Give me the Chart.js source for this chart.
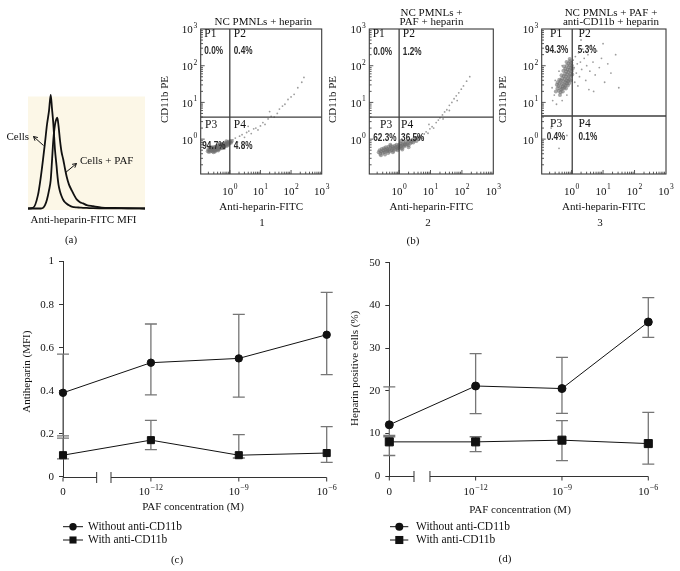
<!DOCTYPE html>
<html><head><meta charset="utf-8">
<script src="https://cdn.jsdelivr.net/npm/chart.js@4.4.1/dist/chart.umd.min.js"></script>
<style>
html,body{margin:0;padding:0;background:#fff;width:680px;height:571px;overflow:hidden}
#wrap{position:relative;width:680px;height:571px}
canvas{position:absolute}
.lbl{position:absolute;font:11px "Liberation Serif","Times New Roman",serif;color:#111;transform:translate(-50%,-50%);white-space:nowrap}
</style></head><body>
<div id="wrap">
<canvas id="ha" width="155" height="160" style="left:0;top:85px"></canvas>
<canvas id="b1" width="180" height="215" style="left:150px;top:0"></canvas>
<canvas id="b2" width="180" height="215" style="left:325px;top:0"></canvas>
<canvas id="b3" width="185" height="215" style="left:495px;top:0"></canvas>
<canvas id="lc" width="340" height="321" style="left:0;top:250px"></canvas>
<canvas id="ld" width="340" height="321" style="left:340px;top:250px"></canvas>
<div class="lbl" style="left:413px;top:240px">(b)</div>
<div class="lbl" style="left:177px;top:559px">(c)</div>
<div class="lbl" style="left:505px;top:558px">(d)</div>
<div class="lbl" style="left:262px;top:222px">1</div>
<div class="lbl" style="left:428px;top:222px">2</div>
<div class="lbl" style="left:600px;top:222px">3</div>
</div>
<script>
// ================= DATA =================
// (a) histogram: channel vs relative count
const histChannel  = [0,5,10,13,15,17,19,21,22.7,24,25.3,27,28.5,29.3,30.5,32,33.5,35.3,37,38.7,41,43.7,46,48.7,52,55,58.7,65,73.7,85,100,117];
const histCells    = [0,0.5,12,29,43,58,74,86,100,88,75,51.5,38,30,21,15,11,7.5,5.5,4.2,2.8,1.6,1.2,1.0,0.8,0.6,0.5,0.3,0.2,0.1,0.1,0];
const histCellsPAF = [0,0,0,0,0.5,3,8,16,25,42,60,74,79,80,73,60,50,43,35,28,21,16,12,8,5.5,4.5,3,2,0.8,0.5,0.2,0];

// (b) flow cytometry dot plots: [log10 Anti-heparin-FITC, log10 CD11b PE]
const flowDecades = [0,1,2,3];
const b1Dense = [[-0.72,-0.33],[-0.70,-0.28],[-0.68,-0.35],[-0.66,-0.30],[-0.65,-0.26],[-0.63,-0.33],[-0.62,-0.29],[-0.60,-0.24],[-0.59,-0.31],[-0.58,-0.27],[-0.56,-0.34],[-0.55,-0.25],[-0.54,-0.29],[-0.52,-0.22],[-0.51,-0.31],[-0.50,-0.26],[-0.49,-0.28],[-0.47,-0.21],[-0.46,-0.30],[-0.45,-0.24],[-0.44,-0.27],[-0.42,-0.19],[-0.41,-0.25],[-0.40,-0.29],[-0.39,-0.22],[-0.37,-0.26],[-0.36,-0.18],[-0.35,-0.23],[-0.34,-0.27],[-0.32,-0.20],[-0.31,-0.16],[-0.30,-0.24],[-0.29,-0.21],[-0.27,-0.17],[-0.26,-0.25],[-0.25,-0.19],[-0.24,-0.14],[-0.22,-0.22],[-0.21,-0.17],[-0.20,-0.12],[-0.18,-0.20],[-0.17,-0.15],[-0.16,-0.18],[-0.14,-0.11],[-0.13,-0.16],[-0.12,-0.13],[-0.10,-0.19],[-0.09,-0.09],[-0.08,-0.14],[-0.06,-0.11],[-0.05,-0.16],[-0.04,-0.07],[-0.02,-0.12],[0.00,-0.09],[0.02,-0.05],[0.04,-0.10],[0.06,-0.06],[-0.58,-0.22],[-0.48,-0.34],[-0.38,-0.31],[-0.28,-0.13],[-0.19,-0.24],[-0.11,-0.06],[-0.64,-0.22],[-0.53,-0.36]];
const b1Sparse = [[0.10,-0.02],[0.18,0.03],[0.25,-0.08],[0.32,0.08],[0.40,0.12],[0.48,0.05],[0.55,0.18],[0.62,0.22],[0.70,0.15],[0.78,0.28],[0.85,0.30],[0.92,0.25],[1.00,0.36],[1.08,0.45],[1.15,0.40],[1.25,0.55],[1.35,0.62],[1.45,0.60],[1.55,0.70],[1.62,0.82],[1.72,0.90],[1.80,0.95],[1.90,1.08],[2.00,1.15],[2.10,1.22],[2.22,1.40],[2.35,1.55],[2.42,1.68],[1.30,0.75],[0.60,0.35]];
const b2Dense = [[-0.65,-0.36],[-0.62,-0.30],[-0.60,-0.40],[-0.57,-0.33],[-0.55,-0.27],[-0.52,-0.37],[-0.50,-0.31],[-0.48,-0.25],[-0.46,-0.35],[-0.44,-0.29],[-0.42,-0.22],[-0.40,-0.33],[-0.38,-0.27],[-0.36,-0.31],[-0.34,-0.21],[-0.32,-0.28],[-0.30,-0.34],[-0.28,-0.24],[-0.26,-0.19],[-0.24,-0.30],[-0.22,-0.26],[-0.20,-0.21],[-0.18,-0.32],[-0.16,-0.24],[-0.14,-0.18],[-0.12,-0.28],[-0.10,-0.22],[-0.08,-0.15],[-0.06,-0.26],[-0.04,-0.20],[-0.02,-0.24],[0.00,-0.16],[0.02,-0.22],[0.04,-0.12],[0.06,-0.19],[0.08,-0.25],[0.10,-0.14],[0.12,-0.18],[0.14,-0.09],[0.16,-0.20],[0.18,-0.13],[0.20,-0.16],[0.22,-0.07],[0.25,-0.14],[0.28,-0.10],[0.30,-0.17],[0.33,-0.05],[0.36,-0.11],[0.39,-0.08],[0.42,-0.02],[0.45,-0.09],[0.48,-0.04],[0.52,0.02],[0.55,-0.05],[0.58,0.04],[0.62,0.00],[0.66,0.06],[-0.35,-0.38],[-0.20,-0.36],[-0.05,-0.30],[0.10,-0.28],[-0.45,-0.42],[-0.28,-0.15],[0.05,-0.05],[-0.58,-0.44],[0.30,-0.22]];
const b2Sparse = [[0.70,0.10],[0.75,0.02],[0.80,0.14],[0.86,0.20],[0.92,0.16],[0.98,0.28],[1.05,0.34],[1.10,0.30],[1.18,0.45],[1.25,0.52],[1.30,0.58],[1.38,0.66],[1.45,0.74],[1.52,0.80],[1.60,0.92],[1.68,1.00],[1.75,1.10],[1.82,1.18],[1.90,1.26],[1.98,1.36],[2.05,1.45],[2.15,1.58],[1.40,0.55],[1.60,0.78],[1.85,1.05],[0.95,0.40],[2.25,1.70]];
const b3Dense = [[-0.45,1.38],[-0.42,1.45],[-0.40,1.32],[-0.38,1.52],[-0.36,1.42],[-0.34,1.60],[-0.33,1.36],[-0.31,1.50],[-0.30,1.66],[-0.28,1.44],[-0.27,1.58],[-0.25,1.72],[-0.24,1.48],[-0.22,1.64],[-0.21,1.78],[-0.20,1.55],[-0.18,1.70],[-0.17,1.84],[-0.16,1.60],[-0.14,1.76],[-0.13,1.90],[-0.12,1.66],[-0.10,1.82],[-0.09,1.96],[-0.08,1.72],[-0.06,1.88],[-0.05,2.02],[-0.04,1.78],[-0.02,1.94],[-0.01,2.08],[0.00,1.85],[0.01,2.00],[-0.35,1.28],[-0.29,1.38],[-0.23,1.40],[-0.19,1.46],[-0.15,1.52],[-0.11,1.58],[-0.07,1.62],[-0.03,1.70],[-0.26,1.86],[-0.20,1.92],[-0.15,2.00],[-0.10,2.06],[-0.05,2.12],[-0.39,1.62],[-0.32,1.74],[-0.44,1.55],[-0.18,1.38],[-0.12,1.46],[-0.28,1.30],[-0.08,1.52],[-0.02,1.60],[0.02,1.76],[0.03,1.92],[-0.37,1.20],[-0.50,1.30],[-0.47,1.48],[-0.24,1.98],[-0.16,2.10],[-0.06,2.18]];
const b3Sparse = [[0.05,2.15],[0.08,1.95],[0.12,2.25],[0.15,1.80],[0.18,2.05],[0.22,2.35],[0.25,1.70],[0.28,2.10],[0.32,1.90],[0.35,2.45],[0.40,2.20],[0.45,1.60],[0.48,2.00],[0.52,2.30],[0.58,1.85],[0.62,2.55],[0.68,2.10],[0.75,1.75],[0.80,2.40],[0.88,1.95],[0.95,2.20],[1.05,1.55],[1.15,2.05],[1.25,1.80],[1.40,2.30],[1.50,1.40],[0.30,2.70],[0.10,1.55],[0.20,1.45],[-0.55,1.20],[-0.60,1.05],[-0.52,1.60],[-0.48,0.95],[-0.30,1.05],[-0.15,1.20],[-0.62,1.40],[-0.40,1.85],[-0.30,2.00],[-0.65,0.30],[-0.40,-0.25],[0.30,0.45],[-0.15,0.10],[0.70,1.30],[1.00,2.60],[0.55,1.35]];
const b1Gate = [0, 0.6];
const b2Gate = [0, 0.6];
const b3Gate = [0.02, 0.63];
const b1Pct = ['0.0%','0.4%','94.7%','4.8%'];
const b2Pct = ['0.0%','1.2%','62.3%','36.5%'];
const b3Pct = ['94.3%','5.3%','0.4%','0.1%'];
const quadNames = ['P1','P2','P3','P4'];

// (c),(d) line charts
const pafTickBase = ['0','10','10','10'];
const pafTickExp  = ['','\u221212','\u22129','\u22126'];
const cWithout     = [0.39,0.53,0.55,0.66];
const cWithoutLow  = [0.19,0.38,0.37,0.475];
const cWithoutHigh = [0.57,0.71,0.755,0.857];
const cWith        = [0.10,0.17,0.10,0.11];
const cWithLow     = [0.083,0.126,0.087,0.067];
const cWithHigh    = [0.179,0.262,0.196,0.233];
const dWithout     = [12,21.1,20.5,36.1];
const dWithoutLow  = [9.5,14.6,14.7,32.5];
const dWithoutHigh = [20.9,28.7,27.8,41.8];
const dWith        = [8.0,8.0,8.4,7.6];
const dWithLow     = [4.8,5.7,3.6,2.8];
const dWithHigh    = [9.2,9.2,13.0,14.9];

// ================= RENDER =================
const SERIF = '"Liberation Serif","Times New Roman",serif';
const PCTFONT = 'bold 10px "Liberation Sans","Arial",sans-serif';
Chart.defaults.font.family = SERIF;
Chart.defaults.color = '#111';

function drawPow(ctx, base, exp, x, y, align, bf, ef, rise){
  ctx.font = bf; const w1 = ctx.measureText(base).width;
  ctx.font = ef; const w2 = exp ? ctx.measureText(exp).width + 0.6 : 0;
  const tot = w1 + w2;
  const sx = align === 'right' ? x - tot : (align === 'center' ? x - tot/2 : x);
  ctx.textAlign = 'left'; ctx.textBaseline = 'middle';
  ctx.font = bf; ctx.fillText(base, sx, y);
  if (exp) { ctx.font = ef; ctx.fillText(exp, sx + w1 + 0.6, y - rise); }
}
function arrow(ctx, x1, y1, x2, y2){
  const ang = Math.atan2(y2-y1, x2-x1), L = 4.5;
  ctx.beginPath(); ctx.moveTo(x1,y1); ctx.lineTo(x2,y2);
  ctx.moveTo(x2 - L*Math.cos(ang-0.5), y2 - L*Math.sin(ang-0.5)); ctx.lineTo(x2,y2);
  ctx.lineTo(x2 - L*Math.cos(ang+0.5), y2 - L*Math.sin(ang+0.5));
  ctx.stroke();
}

// ---- (a) histogram ----
new Chart(document.getElementById('ha'), {
  type: 'line',
  data: { datasets: [
    { data: histChannel.map((c,i)=>({x:c, y:histCells[i]})), borderColor:'#111', borderWidth:1.8, pointRadius:0, cubicInterpolationMode:'monotone', clip:false },
    { data: histChannel.map((c,i)=>({x:c, y:histCellsPAF[i]})), borderColor:'#111', borderWidth:1.8, pointRadius:0, cubicInterpolationMode:'monotone', clip:false }
  ]},
  options: {
    responsive:false, animation:false, events:[], devicePixelRatio:1,
    plugins:{legend:{display:false}, tooltip:{enabled:false}},
    layout:{padding:{left:0, top:10, right:10, bottom:0}},
    scales:{
      x:{type:'linear', min:0, max:117, ticks:{display:false}, grid:{display:false}, border:{display:false}, afterFit:s=>{s.height=36.5;}},
      y:{type:'linear', min:0, max:100, ticks:{display:false}, grid:{display:false}, border:{display:false}, afterFit:s=>{s.width=28;}}
    }
  },
  plugins:[{
    id:'histDeco',
    beforeDatasetsDraw(chart){
      const {ctx, chartArea:a} = chart;
      ctx.save(); ctx.fillStyle = '#fcf7e7';
      ctx.fillRect(a.left, a.top + 1.5, a.right - a.left, a.bottom - a.top);
      ctx.restore();
    },
    afterDraw(chart){
      const ctx = chart.ctx;
      ctx.save();
      ctx.fillStyle = '#111'; ctx.strokeStyle = '#111'; ctx.lineWidth = 1;
      ctx.font = '11px ' + SERIF; ctx.textBaseline = 'middle'; ctx.textAlign = 'left';
      ctx.fillText('Cells', 6.5, 51.7);
      ctx.fillText('Cells + PAF', 80, 75.7);
      arrow(ctx, 43.5, 60.5, 33.5, 51.5);
      arrow(ctx, 65, 88, 76.5, 78.5);
      ctx.textAlign = 'center';
      ctx.fillText('Anti-heparin-FITC MFI', 83.5, 135);
      ctx.fillText('(a)', 71, 155);
      ctx.restore();
    }
  }]
});

// ---- (b) flow plots ----
function makeFlow(id, dense, sparse, gate, pct, S){
  const BF = '11px ' + SERIF, EF = '7.5px ' + SERIF;
  new Chart(document.getElementById(id), {
    type:'scatter',
    data:{datasets:[
      {data: sparse.map(p=>({x:p[0], y:p[1]})), pointRadius:0.9, backgroundColor:'rgba(140,140,140,0.85)', borderWidth:0},
      {data: dense.map(p=>({x:p[0], y:p[1]})), pointRadius:2, backgroundColor:'rgba(110,110,110,0.6)', borderWidth:0}
    ]},
    options:{
      responsive:false, animation:false, events:[], devicePixelRatio:1,
      plugins:{legend:{display:false}, tooltip:{enabled:false}},
      layout:{padding:{left:0, top:S.top, right:S.right, bottom:0}},
      scales:{
        x:{type:'linear', min:-0.95, max:3, ticks:{display:false}, grid:{display:false}, border:{display:false}, afterFit:s=>{s.height=S.bottom;}},
        y:{type:'linear', min:-0.95, max:3, ticks:{display:false}, grid:{display:false}, border:{display:false}, afterFit:s=>{s.width=S.left;}}
      }
    },
    plugins:[{
      id:'flow_'+id,
      afterDatasetsDraw(chart){
        const {ctx, chartArea:a, scales:{x, y}} = chart;
        const L=a.left, R=a.right, T=a.top, B=a.bottom;
        ctx.save();
        ctx.strokeStyle='#3a3a3a'; ctx.lineWidth=1.1;
        ctx.strokeRect(L, T, R-L, B-T);
        const V = x.getPixelForValue(gate[0]), H = y.getPixelForValue(gate[1]);
        ctx.strokeStyle='#3f3f3f'; ctx.lineWidth=1.3;
        ctx.beginPath(); ctx.moveTo(V,T); ctx.lineTo(V,B); ctx.moveTo(L,H); ctx.lineTo(R,H); ctx.stroke();
        ctx.lineWidth=0.9; ctx.strokeStyle='#444';
        ctx.beginPath();
        for (let d=-1; d<3; d++) for (let k=1; k<10; k++){
          const v = d + Math.log10(k);
          if (v < -0.95 || v > 3) continue;
          const len = k===1 ? 4 : 2.3;
          const py = y.getPixelForValue(v), px = x.getPixelForValue(v);
          ctx.moveTo(L, py); ctx.lineTo(L+len, py);
          ctx.moveTo(px, B); ctx.lineTo(px, B-len);
        }
        ctx.stroke();
        ctx.fillStyle='#111';
        flowDecades.forEach(e=>{
          drawPow(ctx, '10', String(e), L-3.5, y.getPixelForValue(e)+1.5, 'right', BF, EF, 4.5);
          drawPow(ctx, '10', String(e), x.getPixelForValue(e), 191.7, 'center', BF, EF, 4.5);
        });
        // quadrant labels
        const ax = {L:L, V:V}, ay = {T:T, H:H};
        S.q.forEach((q,i)=>{
          ctx.textAlign='left'; ctx.textBaseline='middle';
          ctx.font = '11.5px ' + SERIF; ctx.fillStyle='#111';
          ctx.fillText(quadNames[i], ax[q[0]]+q[1], ay[q[2]]+q[3]);
          ctx.font = PCTFONT; ctx.fillStyle='#2a2a2a';
          const w = ctx.measureText(pct[i]).width;
          ctx.fillText(pct[i], ax[q[4]]+q[5], ay[q[6]]+q[7], w*0.82);
        });
        ctx.fillStyle='#111';
        // titles
        ctx.font = BF; ctx.textAlign='center'; ctx.textBaseline='middle';
        S.title.forEach((t,i)=>ctx.fillText(t, S.titleX, S.titleY[i]));
        ctx.fillText('Anti-heparin-FITC', (L+R)/2, 207);
        ctx.save(); ctx.translate(S.yTitleX, 99.5); ctx.rotate(-Math.PI/2);
        ctx.fillText('CD11b PE', 0, 0); ctx.restore();
        ctx.restore();
      }
    }]
  });
}
makeFlow('b1', b1Dense, b1Sparse, b1Gate, b1Pct, {
  left:50.7, top:29, right:8.3, bottom:41, title:['NC PMNLs + heparin'], titleX:113.3, titleY:[21.7], yTitleX:15,
  q:[['L',3.6,'T',5.3,'L',3.6,'T',22.7],['V',4,'T',5.3,'V',4,'T',22.7],['L',4.3,'H',7.7,'L',1.6,'H',28.7],['V',4,'H',7.7,'V',4,'H',28.7]]
});
makeFlow('b2', b2Dense, b2Sparse, b2Gate, b2Pct, {
  left:44.3, top:29, right:11.7, bottom:41, title:['NC PMNLs +','PAF + heparin'], titleX:106.5, titleY:[12.8,22.6], yTitleX:8.5,
  q:[['L',3.4,'T',5.3,'L',4,'T',23],['V',3.7,'T',5.3,'V',3.7,'T',23],['L',10.7,'H',7.7,'L',4,'H',21.5],['V',2,'H',7.7,'V',2,'H',21.5]]
});
makeFlow('b3', b3Dense, b3Sparse, b3Gate, b3Pct, {
  left:46.7, top:29, right:14, bottom:41, title:['NC PMNLs + PAF +','anti-CD11b + heparin'], titleX:116, titleY:[12.8,22.6], yTitleX:8.5,
  q:[['L',8.3,'T',5.3,'L',3.3,'T',21],['V',6.3,'T',5.3,'V',5.6,'T',21],['L',8.3,'H',8,'L',5,'H',21],['V',6.3,'H',8,'V',6.3,'H',21]]
});

// ---- (c),(d) line charts ----
function makeLine(id, wo, woLo, woHi, w, wLo, wHi, S){
  new Chart(document.getElementById(id), {
    type:'line',
    data:{datasets:[
      {label:'Without anti-CD11b', data: wo.map((v,i)=>({x:i, y:v})), borderColor:'#111', backgroundColor:'#111', borderWidth:1,
       pointStyle:'circle', pointRadius:S.circR, pointBorderColor:'#111', pointBackgroundColor:'#111', pointBorderWidth:1, clip:false},
      {label:'With anti-CD11b', data: w.map((v,i)=>({x:i, y:v})), borderColor:'#111', backgroundColor:'#111', borderWidth:1,
       pointStyle:'rect', pointRadius:S.rectR, pointBorderColor:'#111', pointBackgroundColor:'#111', pointBorderWidth:1, clip:false}
    ]},
    options:{
      responsive:false, animation:false, events:[], devicePixelRatio:1,
      plugins:{legend:{display:false}, tooltip:{enabled:false}},
      layout:{padding:{left:0, top:S.top, right:S.right, bottom:0}},
      scales:{
        x:{type:'linear', min:0, max:3, ticks:{display:false}, grid:{display:false}, border:{display:false}, afterFit:s=>{s.height=S.bottom;}},
        y:{type:'linear', min:0, max:S.ymax, ticks:{stepSize:S.step, font:{family:SERIF, size:11}, color:'#111', padding:5,
             callback:v=>String(Number(v.toFixed(2)))},
           grid:{drawOnChartArea:false, drawTicks:true, tickLength:4, color:'#333'}, border:{display:true, color:'#333', width:1},
           afterFit:s=>{s.width=S.left;}}
      }
    },
    plugins:[{
      id:'line_'+id,
      beforeDatasetsDraw(chart){
        const {ctx, scales:{x, y}} = chart;
        ctx.save(); ctx.strokeStyle='#767676'; ctx.lineWidth=1.3;
        [[woLo, woHi],[wLo, wHi]].forEach(([lo, hi])=>{
          lo.forEach((l,i)=>{
            const px = x.getPixelForValue(i), pl = y.getPixelForValue(l), ph = y.getPixelForValue(hi[i]);
            ctx.beginPath(); ctx.moveTo(px,pl); ctx.lineTo(px,ph);
            ctx.moveTo(px-6,pl); ctx.lineTo(px+6,pl); ctx.moveTo(px-6,ph); ctx.lineTo(px+6,ph);
            ctx.stroke();
          });
        });
        ctx.restore();
      },
      afterDraw(chart){
        const {ctx, chartArea:a, scales:{x, y}} = chart;
        ctx.save();
        const y0 = Math.round(y.getPixelForValue(0)) + 0.5;
        const k1 = x.getPixelForValue(S.breakAt[0]), k2 = x.getPixelForValue(S.breakAt[1]);
        ctx.strokeStyle='#333'; ctx.lineWidth=1;
        ctx.beginPath();
        ctx.moveTo(a.left, y0); ctx.lineTo(k1, y0);
        ctx.moveTo(k2, y0); ctx.lineTo(a.right, y0);
        ctx.moveTo(k1, y0-5.5); ctx.lineTo(k1, y0+5.5);
        ctx.moveTo(k2, y0-5.5); ctx.lineTo(k2, y0+5.5);
        for (let i=0;i<4;i++){ const px = x.getPixelForValue(i); ctx.moveTo(px, y0); ctx.lineTo(px, y0+4); }
        ctx.stroke();
        ctx.fillStyle='#111';
        pafTickBase.forEach((b,i)=>{
          drawPow(ctx, b, pafTickExp[i], x.getPixelForValue(i), S.tickY, 'center', '11px '+SERIF, '8px '+SERIF, 4.5);
        });
        ctx.font='11px '+SERIF; ctx.textAlign='center'; ctx.textBaseline='middle';
        ctx.fillText('PAF concentration (M)', S.xTitle[0], S.xTitle[1]);
        ctx.save(); ctx.translate(S.yTitle[0], S.yTitle[1]); ctx.rotate(-Math.PI/2);
        ctx.fillText(S.yTitleText, 0, 0); ctx.restore();
        // legend
        const names = chart.data.datasets.map(d=>d.label);
        names.forEach((n,k)=>{
          const ly = S.legY[k];
          ctx.strokeStyle='#111'; ctx.lineWidth=1;
          ctx.beginPath(); ctx.moveTo(S.legX[0], ly); ctx.lineTo(S.legX[1], ly); ctx.stroke();
          ctx.beginPath();
          if (k===0){ ctx.arc(S.legM, ly, S.circR, 0, Math.PI*2); ctx.fill(); }
          else { const h = S.rectR*Math.SQRT1_2; ctx.fillRect(S.legM-h, ly-h, 2*h, 2*h); }
          ctx.font='11.5px '+SERIF; ctx.textAlign='left'; ctx.textBaseline='middle';
          ctx.fillText(n, S.legT, ly);
        });
        ctx.restore();
      }
    }]
  });
}
makeLine('lc', cWithout, cWithoutLow, cWithoutHigh, cWith, cWithLow, cWithHigh, {
  left:63, top:9.3, right:13.3, bottom:94.3, ymax:1, step:0.2, breakAt:[0.383,0.546], tickY:242,
  xTitle:[193,257.5], yTitle:[27,121.7], yTitleText:'Antiheparin (MFI)',
  legX:[63,83], legM:73, legT:88, legY:[276.7,290], circR:3.7, rectR:5
});
makeLine('ld', dWithout, dWithoutLow, dWithoutHigh, dWith, dWithLow, dWithHigh, {
  left:49.3, top:12.7, right:31.7, bottom:95, ymax:50, step:10, breakAt:[0.286,0.471], tickY:242,
  xTitle:[180,260], yTitle:[15,118.3], yTitleText:'Heparin positive cells (%)',
  legX:[50,68.3], legM:59.3, legT:76, legY:[276.7,290], circR:4, rectR:5.7
});
</script>
</body></html>
